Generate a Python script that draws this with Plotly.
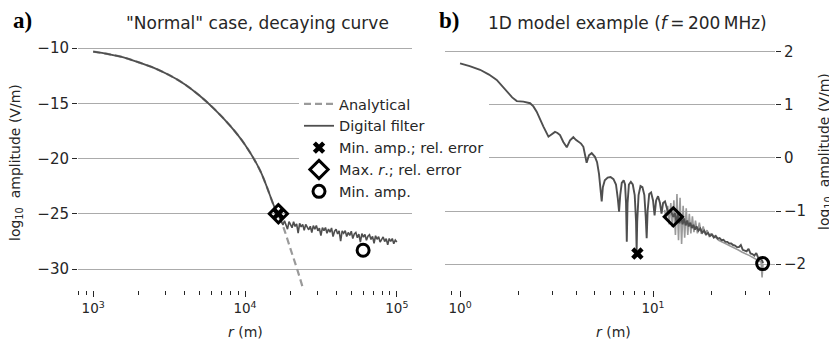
import numpy as np
import plotly.graph_objects as go

# ---------------- Panel a) data (log10 r, log10 amplitude) ----------------
a_smooth_log_r = [3.0, 3.1, 3.2, 3.3, 3.4, 3.5, 3.6, 3.7, 3.8, 3.9, 4.0, 4.1, 4.2, 4.22]
a_smooth_amp = [-10.33, -10.55, -10.85, -11.3, -11.8, -12.45, -13.25, -14.3,
                -15.55, -17.0, -18.75, -21.1, -24.6, -25.1]
a_analytic_ext_log_r = [4.25, 4.3, 4.35, 4.4]
a_analytic_ext_amp = [-26.1, -28.2, -30.3, -32.6]
a_tail_log_r = [4.22, 4.24, 4.25, 4.26, 4.27, 4.28, 4.29, 4.30, 4.31, 4.32, 4.33, 4.34, 4.35,
                4.36, 4.37, 4.38, 4.39, 4.40, 4.41, 4.42, 4.43, 4.44, 4.45, 4.46, 4.47,
                4.48, 4.49, 4.50, 4.51, 4.52, 4.53, 4.54, 4.55, 4.56, 4.57, 4.58, 4.59,
                4.60, 4.61, 4.62, 4.63, 4.64, 4.65, 4.66, 4.67, 4.68, 4.69, 4.70, 4.71,
                4.72, 4.73, 4.74, 4.75, 4.76, 4.77, 4.78, 4.79, 4.80, 4.81, 4.82, 4.83,
                4.84, 4.85, 4.86, 4.87, 4.88, 4.89, 4.90, 4.91, 4.92, 4.93, 4.94, 4.95,
                4.96, 4.97, 4.98, 4.99, 5.00]
a_tail_amp = [-25.1, -25.70, -26.02, -25.64, -25.97, -26.39, -25.71, -25.93, -26.26, -25.73,
              -26.15, -25.92, -26.75, -25.87, -26.19, -25.96, -26.49, -25.96, -26.18,
              -26.45, -26.13, -26.70, -26.07, -26.39, -26.07, -26.54, -26.31, -26.98,
              -26.25, -26.53, -26.25, -26.77, -26.39, -26.67, -26.29, -27.06, -26.58,
              -26.41, -26.83, -26.55, -27.47, -26.55, -26.77, -26.54, -27.06, -26.69,
              -26.96, -26.58, -27.25, -26.83, -26.70, -27.17, -26.84, -27.56, -26.79,
              -27.11, -26.88, -27.40, -27.03, -26.90, -27.32, -27.04, -27.67, -26.99,
              -27.31, -27.08, -27.56, -27.28, -27.10, -27.52, -27.25, -27.82, -27.24,
              -27.51, -27.24, -27.71, -27.38, -27.55]
a_minamp_relerr = ([4.22], [-25.0])
a_maxr_relerr = ([4.22], [-25.0])
a_minamp = ([4.778], [-28.3])

# ---------------- Panel b) data ----------------
b_dig_log_r = [0.000, 0.05, 0.104, 0.15, 0.19, 0.242, 0.27, 0.294, 0.328, 0.363, 0.38, 0.397,
               0.415, 0.432, 0.458, 0.475, 0.492, 0.505, 0.518, 0.535, 0.553, 0.57, 0.587,
               0.600, 0.613, 0.627, 0.639, 0.648, 0.656, 0.668, 0.682, 0.699, 0.710, 0.720,
               0.728, 0.734, 0.740, 0.750, 0.765, 0.780, 0.795, 0.808, 0.817, 0.824, 0.830,
               0.838, 0.848, 0.855, 0.860, 0.864, 0.868, 0.875, 0.885, 0.895, 0.905, 0.912,
               0.915, 0.918, 0.925, 0.935, 0.945, 0.955, 0.962, 0.967, 0.972, 0.980, 0.990,
               1.000, 1.008, 1.016, 1.026, 1.036, 1.044, 1.052, 1.062, 1.072, 1.080, 1.090,
               1.100, 1.105, 1.113, 1.121, 1.129, 1.137, 1.145, 1.153, 1.161, 1.169, 1.177,
               1.185, 1.193, 1.201, 1.209, 1.217, 1.225, 1.235, 1.245, 1.255, 1.265, 1.275,
               1.285, 1.295, 1.305, 1.315, 1.325, 1.335, 1.345, 1.355, 1.365, 1.375, 1.385,
               1.395, 1.405, 1.415, 1.425, 1.435, 1.445, 1.455, 1.465, 1.475, 1.485, 1.495,
               1.505, 1.515, 1.525, 1.535, 1.545, 1.555, 1.565, 1.570]
b_dig_amp = [1.78, 1.73, 1.66, 1.57, 1.47, 1.25, 1.14, 1.07, 1.06, 1.03, 0.97, 0.87,
             0.72, 0.59, 0.40, 0.45, 0.49, 0.47, 0.43, 0.30, 0.20, 0.33, 0.39,
             0.34, 0.31, 0.27, 0.21, 0.03, -0.09, 0.05, 0.09, 0.02, -0.08, -0.30,
             -0.55, -0.82, -0.55, -0.42, -0.37, -0.36, -0.40, -0.50, -0.75, -1.01, -0.70,
             -0.47, -0.42, -0.50, -0.85, -1.58, -0.85, -0.50, -0.45, -0.50, -0.70, -1.20,
             -1.75, -1.20, -0.70, -0.53, -0.55, -0.70, -1.10, -1.51, -1.00, -0.68, -0.65,
             -0.80, -1.08, -0.80, -0.72, -0.85, -1.05, -0.85, -0.82, -0.95, -1.05, -0.98,
             -1.05, -1.11, -1.04, -1.21, -1.06, -1.23, -1.10, -1.25, -1.14, -1.27, -1.18,
             -1.29, -1.22, -1.32, -1.26, -1.35, -1.29, -1.37, -1.33, -1.41, -1.37, -1.44,
             -1.41, -1.47, -1.44, -1.50, -1.47, -1.52, -1.51, -1.55, -1.54, -1.58, -1.58,
             -1.61, -1.61, -1.64, -1.65, -1.68, -1.68, -1.64, -1.73, -1.74, -1.76, -1.71,
             -1.80, -1.81, -1.84, -1.79, -1.88, -1.90, -1.93, -1.98]
b_ref_log_r = [1.060, 1.068, 1.076, 1.084, 1.092, 1.100, 1.108, 1.116, 1.124, 1.132, 1.140,
               1.148, 1.156, 1.164, 1.172, 1.180, 1.188, 1.196, 1.204, 1.212, 1.220, 1.230,
               1.240, 1.250, 1.260, 1.270, 1.280, 1.290, 1.30, 1.32, 1.34, 1.36, 1.38, 1.40,
               1.42, 1.44, 1.46, 1.48, 1.50, 1.52, 1.54, 1.56, 1.565, 1.57]
b_ref_amp = [-0.98, -1.15, -0.90, -1.25, -0.85, -1.30, -0.80, -1.45, -0.68, -1.55, -0.75,
             -1.62, -0.90, -1.50, -0.95, -1.45, -1.05, -1.42, -1.10, -1.40, -1.18, -1.42,
             -1.22, -1.43, -1.29, -1.44, -1.36, -1.47, -1.43, -1.48, -1.55, -1.58, -1.62, -1.66,
             -1.69, -1.73, -1.77, -1.80, -1.84, -1.88, -1.92, -1.96, -2.25, -1.99]
b_minamp_relerr = ([0.919], [-1.80])
b_maxr_relerr = ([1.105], [-1.11])
b_minamp = ([1.568], [-1.99])

a_xticks = [1e3, 1e4, 1e5]
a_xticktext = ["10<sup>3</sup>", "10<sup>4</sup>", "10<sup>5</sup>"]
a_xminor = [800, 900, 2000, 3000, 4000, 5000, 6000, 7000, 8000, 9000,
            20000, 30000, 40000, 50000, 60000, 70000, 80000, 90000]
a_yticks = [-10, -15, -20, -25, -30]
b_xticks = [1, 10]
b_xticktext = ["10<sup>0</sup>", "10<sup>1</sup>"]
b_xminor = [0.9, 2, 3, 4, 5, 6, 7, 8, 9, 20, 30, 40]
b_yticks = [2, 1, 0, -1, -2]


def r(vals):
    return np.power(10.0, np.array(vals, dtype=float))


def lab(v):
    return ("\u2212" + str(abs(v))) if v < 0 else str(v)


DARK = "#4f4f4f"
LIGHT = "#9a9a9a"
FONT = "DejaVu Sans"
W, H = 829, 342
ML, MR, MT, MB = 78, 54, 42, 52
PW, PH = W - ML - MR, H - MT - MB


def fx(px):
    return (px - ML) / PW


def fy(py):
    return (H - MB - py) / PH


fig = go.Figure()

# Panel a
fig.add_trace(go.Scatter(x=r(a_smooth_log_r + a_analytic_ext_log_r), y=a_smooth_amp + a_analytic_ext_amp,
                         mode="lines", line=dict(color=LIGHT, width=2.2, dash="7px,4px", shape="spline"),
                         name="Analytical", xaxis="x", yaxis="y"))
fig.add_trace(go.Scatter(x=r(a_smooth_log_r), y=a_smooth_amp, mode="lines",
                         line=dict(color=DARK, width=1.8, shape="spline"),
                         name="Digital filter", legendgroup="df", xaxis="x", yaxis="y"))
fig.add_trace(go.Scatter(x=r(a_tail_log_r), y=a_tail_amp, mode="lines",
                         line=dict(color=DARK, width=1.6),
                         showlegend=False, legendgroup="df", xaxis="x", yaxis="y"))
fig.add_trace(go.Scatter(x=r(a_minamp_relerr[0]), y=a_minamp_relerr[1], mode="markers",
                         marker=dict(symbol="x", size=11, color="black", line=dict(width=0)),
                         name="Min. amp.; rel. error", xaxis="x", yaxis="y"))
fig.add_trace(go.Scatter(x=r(a_maxr_relerr[0]), y=a_maxr_relerr[1], mode="markers",
                         marker=dict(symbol="diamond-open", size=14, color="black", line=dict(width=3)),
                         name="Max. <i>r</i>.; rel. error", xaxis="x", yaxis="y"))
fig.add_trace(go.Scatter(x=r(a_minamp[0]), y=a_minamp[1], mode="markers",
                         marker=dict(symbol="circle-open", size=12, color="black", line=dict(width=3)),
                         name="Min. amp.", xaxis="x", yaxis="y"))

# Panel b
fig.add_trace(go.Scatter(x=r(b_ref_log_r), y=b_ref_amp, mode="lines",
                         line=dict(color=LIGHT, width=1.6), showlegend=False, xaxis="x2", yaxis="y2"))
fig.add_trace(go.Scatter(x=r(b_dig_log_r), y=b_dig_amp, mode="lines",
                         line=dict(color=DARK, width=1.9), showlegend=False, xaxis="x2", yaxis="y2"))
fig.add_trace(go.Scatter(x=r(b_minamp_relerr[0]), y=b_minamp_relerr[1], mode="markers",
                         marker=dict(symbol="x", size=11, color="black", line=dict(width=0)),
                         showlegend=False, xaxis="x2", yaxis="y2"))
fig.add_trace(go.Scatter(x=r(b_maxr_relerr[0]), y=b_maxr_relerr[1], mode="markers",
                         marker=dict(symbol="diamond-open", size=14, color="black", line=dict(width=3)),
                         showlegend=False, xaxis="x2", yaxis="y2"))
fig.add_trace(go.Scatter(x=r(b_minamp[0]), y=b_minamp[1], mode="markers",
                         marker=dict(symbol="circle-open", size=12, color="black", line=dict(width=3)),
                         showlegend=False, xaxis="x2", yaxis="y2"))

TICKC = "#262626"
xcommon = dict(type="log", showgrid=False, zeroline=False, showline=False, ticks="outside",
               ticklen=6, tickwidth=1.3, tickcolor=TICKC,
               tickfont=dict(family=FONT, size=13.5, color=TICKC))
ycommon = dict(showgrid=True, gridcolor="#ababab", gridwidth=1.3, zeroline=False, showline=False,
               ticks="outside", ticklen=5, tickwidth=1.3, tickcolor=TICKC,
               tickfont=dict(family=FONT, size=15, color=TICKC))

fig.update_layout(
    width=W, height=H, margin=dict(l=ML, r=MR, t=MT, b=MB),
    paper_bgcolor="white", plot_bgcolor="white",
    font=dict(family=FONT, size=14, color=TICKC),
    xaxis=dict(domain=[0, fx(412)], range=[2.9, 5.1], tickvals=a_xticks, ticktext=a_xticktext,
               minor=dict(tickvals=a_xminor, ticks="outside", ticklen=3.5, tickwidth=1.3,
                          tickcolor=TICKC, showgrid=False), anchor="y", **xcommon),
    yaxis=dict(domain=[0, 1], range=[-31.9, -9.457], tickvals=a_yticks,
               ticktext=[lab(v) for v in a_yticks], anchor="x", **ycommon),
    xaxis2=dict(domain=[fx(445), 1], range=[-0.078, 1.632], tickvals=b_xticks, ticktext=b_xticktext,
                minor=dict(tickvals=b_xminor, ticks="outside", ticklen=3.5, tickwidth=1.3,
                           tickcolor=TICKC, showgrid=False), anchor="y2", **xcommon),
    yaxis2=dict(domain=[0, 1], range=[-2.487, 2.183], tickvals=b_yticks,
                ticktext=[lab(v) for v in b_yticks], anchor="x2", side="right", **ycommon),
    legend=dict(x=fx(299), y=fy(88), xanchor="left", yanchor="top", bgcolor="white",
                borderwidth=0, font=dict(family=FONT, size=14.5, color=TICKC),
                itemwidth=30, tracegroupgap=0),
    showlegend=True,
)

ann = [
    dict(text="<b>a)</b>", x=fx(22), y=fy(20), font=dict(family="Liberation Serif", size=23, color="black")),
    dict(text="<b>b)</b>", x=fx(449), y=fy(20), font=dict(family="Liberation Serif", size=23, color="black")),
    dict(text="\"Normal\" case, decaying curve", x=fx(257), y=fy(23),
         font=dict(family=FONT, size=17, color=TICKC)),
    dict(text="1D model example (<i>f</i>\u2009=\u2009200\u2009MHz)", x=fx(627), y=fy(23),
         font=dict(family=FONT, size=17, color=TICKC)),
    dict(text="<i>r</i> (m)", x=fx(245), y=fy(332), font=dict(family=FONT, size=14, color=TICKC)),
    dict(text="<i>r</i> (m)", x=fx(613), y=fy(332), font=dict(family=FONT, size=14, color=TICKC)),
    dict(text="log<sub>10</sub>  amplitude (V/m)", x=fx(16), y=fy(163), textangle=-90,
         font=dict(family=FONT, size=14, color=TICKC)),
    dict(text="log<sub>10</sub>  amplitude (V/m)", x=fx(825), y=fy(152), textangle=-90,
         font=dict(family=FONT, size=14, color=TICKC)),
]
for a in ann:
    a.update(xref="paper", yref="paper", showarrow=False, xanchor="center", yanchor="middle")
fig.update_layout(annotations=ann)

fig.write_html("out.html")
